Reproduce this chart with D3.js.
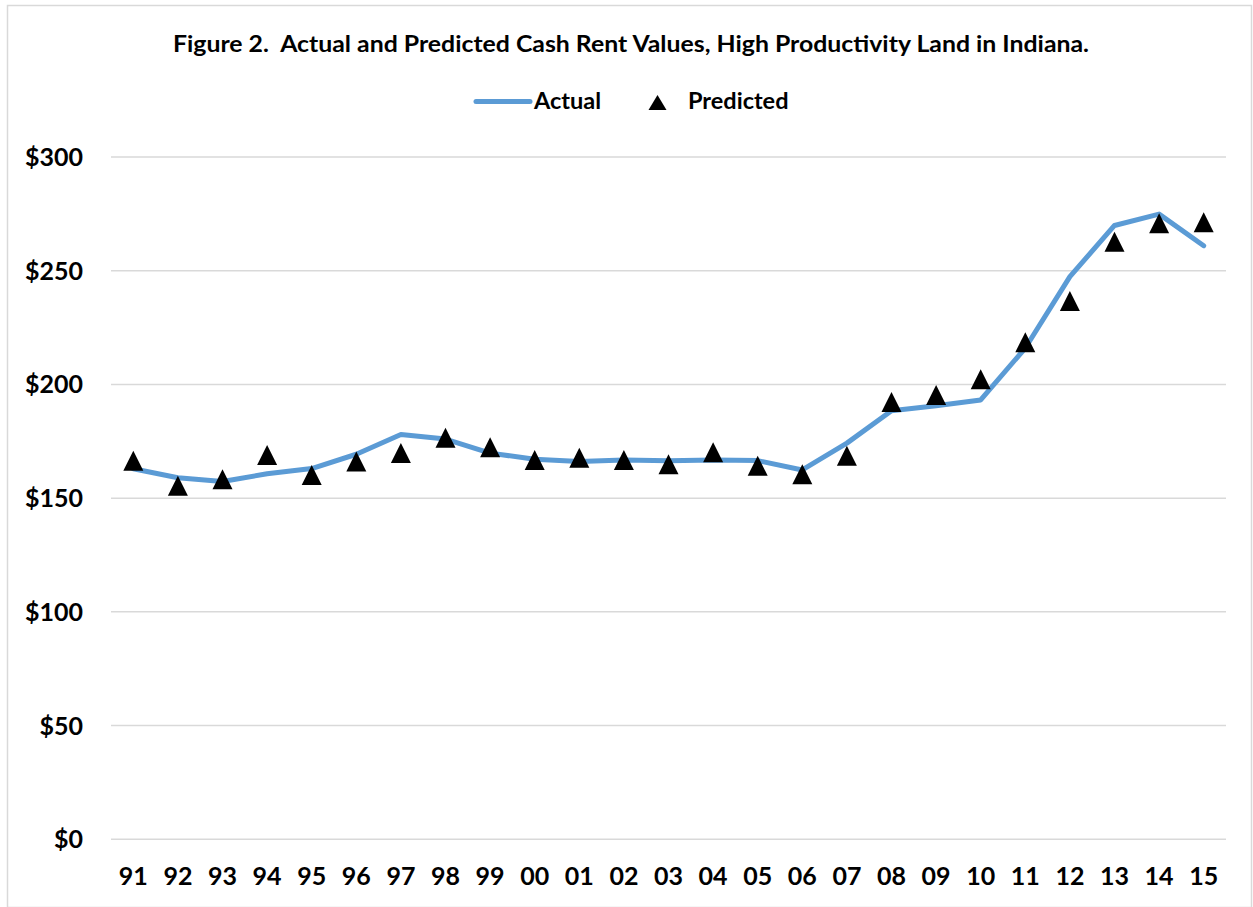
<!DOCTYPE html>
<html>
<head>
<meta charset="utf-8">
<script src="https://cdn.jsdelivr.net/npm/d3@7"></script>
<style>
  html, body { margin: 0; padding: 0; background: #fff; }
  svg { display: block; }
  text { font-family: Lato, "Open Sans", sans-serif; font-weight: bold; fill: #000; }
</style>
</head>
<body>
<script>
const years = ["91","92","93","94","95","96","97","98","99","00","01","02","03","04","05","06","07","08","09","10","11","12","13","14","15"];
const actual = [162.9,159.0,157.3,160.7,163.0,169.3,178.0,176.0,169.8,167.1,166.1,166.8,166.4,166.8,166.5,162.4,174.2,188.4,190.6,193.2,216.0,247.4,269.9,274.9,261.0];
const predicted = [166.4,155.5,158.3,169.0,160.2,166.1,169.8,176.6,172.4,166.8,167.8,166.8,164.9,170.2,164.2,160.5,168.6,192.3,195.4,202.3,218.6,236.7,262.7,270.9,271.3];
const yTicks = [0,50,100,150,200,250,300];
const title = "Figure 2.  Actual and Predicted Cash Rent Values, High Productivity Land in Indiana.";
const seriesNames = ["Actual","Predicted"];

(function () {
const W = 1253, H = 907;
const svg = d3.select("body").append("svg").attr("width", W).attr("height", H);

// chart border
svg.append("rect").attr("x", 7.5).attr("y", 5.5).attr("width", W - 9).attr("height", H - 5)
  .attr("fill", "none").attr("stroke", "#D9D9D9").attr("stroke-width", 1.5);

const pL = 111, pR = 1226, pT = 157, pB = 839.3;
const x = d3.scaleBand().domain(years).range([pL, pR]);
const y = d3.scaleLinear().domain([0, 300]).range([pB, pT]);

// title
svg.append("text").attr("x", 631).attr("y", 51.5).attr("text-anchor", "middle")
  .attr("font-size", 23).attr("textLength", 916).attr("lengthAdjust", "spacingAndGlyphs")
  .attr("xml:space", "preserve").style("white-space", "pre")
  .text(title);

// gridlines
svg.append("g").selectAll("line").data(yTicks).join("line")
  .attr("x1", pL).attr("x2", pR)
  .attr("y1", d => y(d)).attr("y2", d => y(d))
  .attr("stroke", "#D9D9D9").attr("stroke-width", 1.5);

// y axis labels
const yAxis = d3.axisLeft(y).tickValues(yTicks).tickFormat(d => "$" + d).tickSize(0).tickPadding(0);
const gy = svg.append("g").attr("transform", "translate(83,0)").call(yAxis);
gy.select(".domain").remove();
gy.selectAll("text").attr("font-size", 25).attr("font-family", "Lato, sans-serif").attr("font-weight", "bold").attr("dy", "0.34em").attr("fill", "#000");

// x axis labels
const xAxis = d3.axisBottom(x).tickSize(0).tickPadding(0);
const gx = svg.append("g").attr("transform", "translate(0,885)").call(xAxis);
gx.select(".domain").remove();
gx.selectAll("text").attr("font-size", 25).attr("font-family", "Lato, sans-serif").attr("font-weight", "bold").attr("y", 0).attr("dy", 0).attr("fill", "#000");

const cx = d => x(d) + x.bandwidth() / 2;

// actual line
const line = d3.line().x((d, i) => cx(years[i])).y(d => y(d));
svg.append("path").datum(actual).attr("d", line)
  .attr("fill", "none").attr("stroke", "#5B9BD5").attr("stroke-width", 5)
  .attr("stroke-linejoin", "round").attr("stroke-linecap", "round");

// predicted triangles
const tri = (w, h) => `M0,${-h/2}L${w/2},${h/2}L${-w/2},${h/2}Z`;
svg.append("g").selectAll("path").data(predicted).join("path")
  .attr("transform", (d, i) => `translate(${cx(years[i])},${y(d)})`)
  .attr("d", tri(20, 20)).attr("fill", "#000");

// legend
const lg = svg.append("g");
lg.append("line").attr("x1", 476).attr("x2", 530).attr("y1", 101.5).attr("y2", 101.5)
  .attr("stroke", "#5B9BD5").attr("stroke-width", 5).attr("stroke-linecap", "round");
lg.append("text").attr("x", 534).attr("y", 108.5).attr("font-size", 23.5).text(seriesNames[0]);
lg.append("path").attr("transform", "translate(657.5,102.5)").attr("d", tri(18, 15)).attr("fill", "#000");
lg.append("text").attr("x", 688).attr("y", 108.5).attr("font-size", 23.5).text(seriesNames[1]);
})();
</script>
</body>
</html>
